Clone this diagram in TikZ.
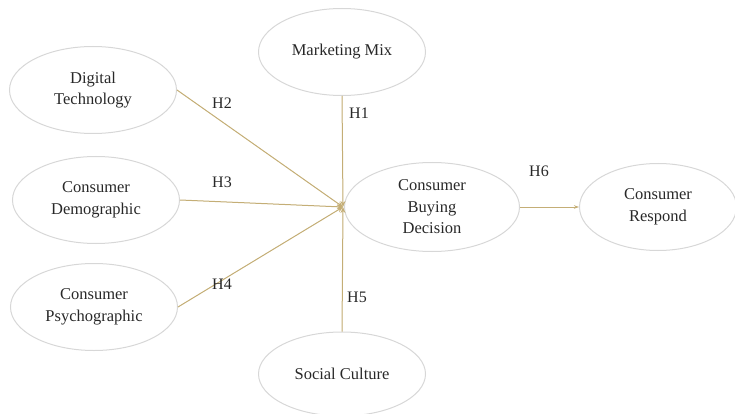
\documentclass[tikz,border=0pt]{standalone}
\usepackage{fontspec}
\setmainfont{Liberation Serif}
\usepackage{tikz}
\usetikzlibrary{shapes.geometric, arrows.meta, positioning}
\definecolor{ringgray}{RGB}{215,215,215}
\definecolor{linktan}{RGB}{196,174,118}
\definecolor{textgray}{RGB}{40,40,40}

\begin{document}
\begin{tikzpicture}[
  x=1pt, y=-1pt,
  var/.style = {
    ellipse, draw=ringgray, line width=1pt, inner sep=0pt,
    minimum width=167pt, minimum height=87pt, text=textgray,
    align=center, font=\fontsize{16.5}{21.5}\selectfont
  },
  hyp/.style = { font=\fontsize{16}{18}\selectfont, inner sep=0pt, text=textgray },
  arr/.style = { -{Stealth[length=6pt,width=5pt]}, line width=1pt, draw=linktan, fill=linktan }
]
\useasboundingbox (0,0) rectangle (735,414);

\node[var] (mix)   at (342,52)  {Marketing Mix};
\node[var] (tech)  at (93,90)   {Digital\\Technology};
\node[var] (demo)  at (96,200)  {Consumer\\Demographic};
\node[var] (psych) at (94,307)  {Consumer\\Psychographic};
\node[var, minimum height=84pt] (social) at (342,374) {Social Culture};
\node[var, minimum width=175pt, minimum height=89pt] (buy) at (432,207) {Consumer\\Buying\\Decision};
\node[var, minimum width=157pt] (resp) at (658,207) {Consumer\\Respond};

\coordinate (hub) at (343,207);

\draw[arr] (mix.south)    -- (hub);
\draw[arr] (tech.east)    -- (hub);
\draw[arr] (demo.east)    -- (hub);
\draw[arr] (psych.east)   -- (hub);
\draw[arr] (social.north) -- (hub);
\draw[arr, -{Stealth[length=5pt,width=3.5pt]}] (buy.east) -- (resp.west);

\node[hyp] (h1) at (359,113) {H1};
\node[hyp] (h2) at (222,103) {H2};
\node[hyp] (h3) at (222,182) {H3};
\node[hyp] (h4) at (222,284) {H4};
\node[hyp] (h5) at (357,297) {H5};
\node[hyp] (h6) at (539,171) {H6};

\end{tikzpicture}
\end{document}
